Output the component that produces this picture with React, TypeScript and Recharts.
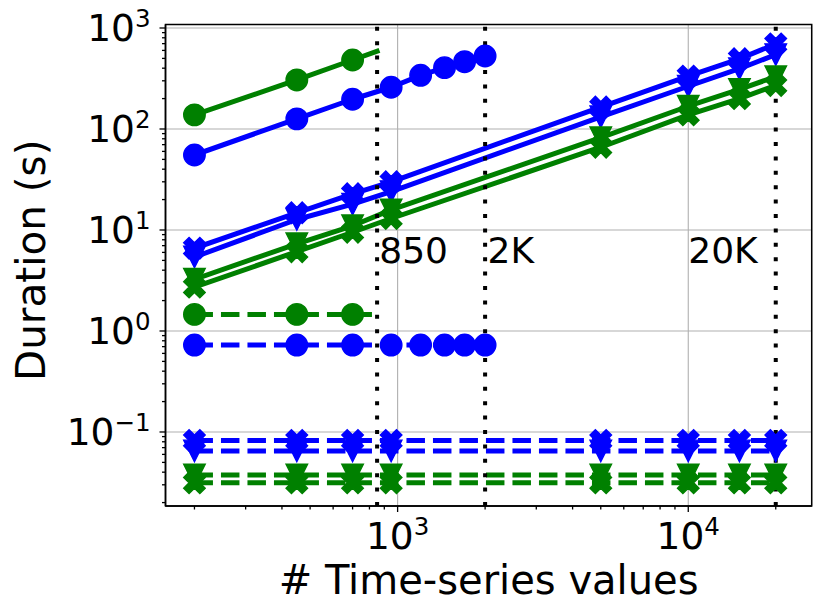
import {
  LineChart,
  Line,
  XAxis,
  YAxis,
  CartesianGrid,
  ReferenceLine,
  ReferenceDot,
  ReferenceArea,
} from 'recharts'

const FONT = '"DejaVu Sans", sans-serif'
const BLUE = '#0000ff'
const GREEN = '#008000'

// x positions (# time-series values)
const xAll = [200, 450, 700, 950, 5000, 10000, 15000, 20000]
const xBlueCircle = [200, 450, 700, 950, 1200, 1450, 1700, 2000]
const xGreenCircle = [200, 450, 700, 850]

// durations (s)
const greenCircleSolid = [138, 306, 482, 590]
const greenCircleDashed = [1.46, 1.46, 1.46, 1.46]
const blueCircleSolid = [55.3, 126, 197, 259, 340, 405, 464, 528]
const blueCircleDashed = [0.726, 0.726, 0.726, 0.726, 0.726, 0.726, 0.726, 0.726]
const blueXSolid = [6.6, 14.8, 22.8, 30, 165, 333, 495, 695]
const blueVSolid = [5.4, 12.7, 18, 24, 132, 265, 395, 545]
const greenVSolid = [3.25, 7.3, 11, 15.8, 82, 168, 247, 330]
const greenXSolid = [2.72, 6.1, 9.5, 13, 66, 138, 200, 270]
const blueXDashed = [0.0824, 0.0824, 0.0824, 0.0824, 0.0824, 0.0824, 0.0824, 0.0824]
const blueVDashed = [0.065, 0.065, 0.065, 0.065, 0.065, 0.065, 0.065, 0.065]
const greenVDashed = [0.0375, 0.0375, 0.0375, 0.0375, 0.0375, 0.0375, 0.0375, 0.0375]
const greenXDashed = [0.0314, 0.0314, 0.0314, 0.0314, 0.0314, 0.0314, 0.0314, 0.0314]

// vertical limits
const limits = [850, 2000, 20000]
const limitLabels = ['850', '2K', '20K']
const limitLabelX = [865, 2040, 10000]
const limitLabelY = 4.7

// axes
const xDomain = [159, 26590]
const yDomain = [0.0185, 1083]
const xMajor = [1000, 10000]
const xMajorExp = ['3', '4']
const yMajor = [0.1, 1, 10, 100, 1000]
const yMajorExp = ['\u22121', '0', '1', '2', '3']
const minorSteps = [2, 3, 4, 5, 6, 7, 8, 9]
const xMinor = [100, 1000, 10000].flatMap((d) => minorSteps.map((m) => m * d)).filter((v) => v > xDomain[0] && v < xDomain[1])
const yMinor = [0.01, 0.1, 1, 10, 100].flatMap((d) => minorSteps.map((m) => +(m * d).toPrecision(3))).filter((v) => v > yDomain[0] && v < yDomain[1])
const xTicks = [...xMajor, ...xMinor].sort((a, b) => a - b)
const yTicks = [...yMajor, ...yMinor].sort((a, b) => a - b)

const toPoints = (xs: number[], ys: number[]) => xs.map((x, i) => ({ x, y: ys[i] }))

const S = 21.5
const X_PATH = [[-1, -2], [0, -1], [1, -2], [2, -1], [1, 0], [2, 1], [1, 2], [0, 1], [-1, 2], [-2, 1], [-1, 0], [-2, -1]]

function Marker({ cx, cy, kind, color }: { cx: number; cy: number; kind: string; color: string }) {
  const common = { fill: color, stroke: color, strokeWidth: 1.4, strokeLinejoin: 'miter' as const }
  if (kind === 'o') return <circle cx={cx} cy={cy} r={S / 2} {...common} />
  if (kind === 'v') {
    const h = S / 2
    return <polygon points={`${cx - h},${cy - h} ${cx + h},${cy - h} ${cx},${cy + h}`} {...common} />
  }
  const pts = X_PATH.map(([px, py]) => `${cx + (px * S) / 4},${cy + (py * S) / 4}`).join(' ')
  return <polygon points={pts} {...common} />
}

function series(id: string, xs: number[], ys: number[], color: string, kind: string, dashed: boolean, markerCount = xs.length) {
  return (
    <Line
      key={id}
      data={toPoints(xs, ys)}
      dataKey="y"
      type="linear"
      stroke={color}
      strokeWidth={5}
      strokeDasharray={dashed ? '18.5 8' : undefined}
      strokeLinecap={dashed ? 'butt' : 'square'}
      strokeLinejoin="round"
      dot={(p: any) =>
        p.index < markerCount && p.cx != null ? (
          <Marker key={`${id}-${p.index}`} cx={p.cx} cy={p.cy} kind={kind} color={color} />
        ) : (
          <g key={`${id}-${p.index}`} />
        )
      }
      activeDot={false}
      legendType="none"
      isAnimationActive={false}
    />
  )
}

function XTick({ x, y, payload }: any) {
  const i = xMajor.indexOf(payload.value)
  const major = i >= 0
  return (
    <g>
      <line x1={x} y1={y} x2={x} y2={y + (major ? 6 : 3.5)} stroke="#000" strokeWidth={1.3} />
      {major && (
        <text x={x} y={y + 43.3} textAnchor="middle" fontFamily={FONT} fontSize={37.5} fill="#000">
          10
          <tspan dy={-14.5} fontSize={24.5}>
            {xMajorExp[i]}
          </tspan>
        </text>
      )}
    </g>
  )
}

function YTick({ x, y, payload }: any) {
  const i = yMajor.indexOf(payload.value)
  const major = i >= 0
  return (
    <g>
      <line x1={x} y1={y} x2={x - (major ? 6 : 3.5)} y2={y} stroke="#000" strokeWidth={1.3} />
      {major && (
        <text x={x - 15} y={y + 13.5} textAnchor="end" fontFamily={FONT} fontSize={37.5} fill="#000">
          10
          <tspan dy={-14.5} fontSize={24.5}>
            {yMajorExp[i]}
          </tspan>
        </text>
      )}
    </g>
  )
}

const renderXLabel = ({ viewBox }: any) => (
  <text x={viewBox.x + viewBox.width / 2} y={viewBox.y + 88.3} textAnchor="middle" fontFamily={FONT} fontSize={40} fill="#000">
    # Time-series values
  </text>
)

const renderYLabel = ({ viewBox }: any) => {
  const cx = viewBox.x + 29.5
  const cy = viewBox.y + viewBox.height / 2 - 5
  return (
    <text x={cx} y={cy} transform={`rotate(-90, ${cx}, ${cy})`} textAnchor="middle" fontFamily={FONT} fontSize={40.5} fill="#000">
      Duration (s)
    </text>
  )
}

export default function App() {
  return (
    <div style={{ margin: '-8px 0 0 -8px', width: 823, height: 608 }}>
      <LineChart width={823} height={608} margin={{ top: 24.5, right: 11.3, bottom: 12, left: 15.5 }}>
        {/* hidden axes carrying only the major ticks, for the grid */}
        <XAxis xAxisId="grid" dataKey="x" type="number" scale="log" domain={xDomain} allowDataOverflow ticks={xMajor} interval={0} hide />
        <YAxis yAxisId="grid" type="number" scale="log" domain={yDomain} allowDataOverflow ticks={yMajor} interval={0} hide />
        <CartesianGrid stroke="#b0b0b0" strokeWidth={1.1} xAxisId="grid" yAxisId="grid" />
        <XAxis
          dataKey="x"
          type="number"
          scale="log"
          domain={xDomain}
          allowDataOverflow
          ticks={xTicks}
          interval={0}
          tickSize={0}
          tickMargin={0}
          tickLine={false}
          tick={<XTick />}
          axisLine={{ stroke: '#000', strokeWidth: 1.5 }}
          height={90}
          label={{ content: renderXLabel }}
        />
        <YAxis
          type="number"
          scale="log"
          domain={yDomain}
          allowDataOverflow
          ticks={yTicks}
          interval={0}
          tickSize={0}
          tickMargin={0}
          tickLine={false}
          tick={<YTick />}
          axisLine={{ stroke: '#000', strokeWidth: 1.5 }}
          width={150}
          label={{ content: renderYLabel }}
        />
        {series('gc-solid', xGreenCircle, greenCircleSolid, GREEN, 'o', false, 3)}
        {series('bc-solid', xBlueCircle, blueCircleSolid, BLUE, 'o', false)}
        {series('gc-dash', xGreenCircle, greenCircleDashed, GREEN, 'o', true, 3)}
        {series('bc-dash', xBlueCircle, blueCircleDashed, BLUE, 'o', true)}
        {series('bx-solid', xAll, blueXSolid, BLUE, 'X', false)}
        {series('bv-solid', xAll, blueVSolid, BLUE, 'v', false)}
        {series('gv-solid', xAll, greenVSolid, GREEN, 'v', false)}
        {series('gx-solid', xAll, greenXSolid, GREEN, 'X', false)}
        {series('bx-dash', xAll, blueXDashed, BLUE, 'X', true)}
        {series('bv-dash', xAll, blueVDashed, BLUE, 'v', true)}
        {series('gv-dash', xAll, greenVDashed, GREEN, 'v', true)}
        {series('gx-dash', xAll, greenXDashed, GREEN, 'X', true)}
        {limits.map((v) => (
          <ReferenceLine key={`lim-${v}`} x={v} stroke="#000" strokeWidth={4} strokeDasharray="4 10.4" />
        ))}
        {limits.map((v, i) => (
          <ReferenceDot
            key={`lab-${v}`}
            x={limitLabelX[i]}
            y={limitLabelY}
            r={0}
            fill="none"
            stroke="none"
            label={{
              content: ({ viewBox }: any) => (
                <text x={viewBox.x} y={viewBox.y} fontFamily={FONT} fontSize={36} fill="#000">
                  {limitLabels[i]}
                </text>
              ),
            }}
          />
        ))}
        <ReferenceArea
          x1={xDomain[0]}
          x2={xDomain[1]}
          y1={yDomain[0]}
          y2={yDomain[1]}
          fill="none"
          stroke="#000"
          strokeWidth={1.5}
          ifOverflow="visible"
        />
      </LineChart>
    </div>
  )
}
